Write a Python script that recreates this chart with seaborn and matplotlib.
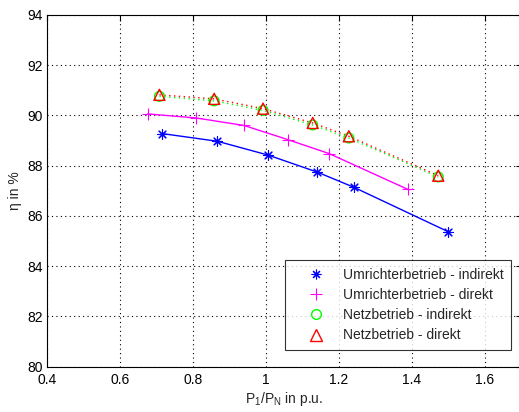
import matplotlib
matplotlib.use("Agg")
import matplotlib.pyplot as plt
import seaborn as sns
import pandas as pd

# Data
x_ur_ind = [0.714, 0.867, 1.006, 1.141, 1.242, 1.499]
y_ur_ind = [89.28, 88.97, 88.42, 87.74, 87.13, 85.37]

x_ur_dir = [0.676, 0.808, 0.940, 1.059, 1.173, 1.388]
y_ur_dir = [90.06, 89.90, 89.60, 89.04, 88.48, 87.06]

x_netz_ind = [0.708, 0.858, 0.992, 1.128, 1.227, 1.472]
y_netz_ind = [90.76, 90.58, 90.20, 89.62, 89.10, 87.55]

x_netz_dir = [0.708, 0.858, 0.992, 1.128, 1.227, 1.472]
y_netz_dir = [90.82, 90.66, 90.27, 89.70, 89.17, 87.60]

labels = ["Umrichterbetrieb - indirekt", "Umrichterbetrieb - direkt",
          "Netzbetrieb - indirekt", "Netzbetrieb - direkt"]
x_ticks = [0.4, 0.6, 0.8, 1, 1.2, 1.4, 1.6]
x_tick_labels = ["0.4", "0.6", "0.8", "1", "1.2", "1.4", "1.6"]
y_ticks = [80, 82, 84, 86, 88, 90, 92, 94]

sns.set_style("white")
plt.rcParams['font.family'] = ['Liberation Sans', 'DejaVu Sans']
plt.rcParams['mathtext.fontset'] = 'custom'
plt.rcParams['mathtext.rm'] = 'Liberation Sans'
plt.rcParams['mathtext.it'] = 'Liberation Sans'

FS = 10

fig = plt.figure(figsize=(5.19, 4.12), dpi=100)
ax = fig.add_axes([47/519, 1-366.5/412, (521.5-47)/519, (366.5-15)/412])

ASTER = (8, 2, 0)
series = [
    (x_ur_ind, y_ur_ind, "#0000ff", ASTER, "-", labels[0], 7, 'fill'),
    (x_ur_dir, y_ur_dir, "#ff00ff", "+", "-", labels[1], 8, 'fill'),
    (x_netz_ind, y_netz_ind, "#00ff00", "o", (0, (1, 2.5)), labels[2], 7, 'hollow'),
    (x_netz_dir, y_netz_dir, "#ff0000", "^", (0, (1, 2.5)), labels[3], 8, 'hollow'),
]

handles = []
for xs, ys, col, mk, ls, lab, ms, fill in series:
    df = pd.DataFrame({"x": xs, "y": ys})
    sns.lineplot(data=df, x="x", y="y", ax=ax, color=col, linestyle=ls,
                 linewidth=1.0, sort=False, legend=False, zorder=3)
    if fill == 'hollow':
        sns.scatterplot(data=df, x="x", y="y", ax=ax, marker=mk, s=ms**2,
                        facecolor="none", edgecolor=col, linewidth=1.0,
                        legend=False, zorder=4)
    else:
        sns.scatterplot(data=df, x="x", y="y", ax=ax, marker=mk, s=ms**2,
                        color=col, edgecolor=col, linewidth=0.8,
                        legend=False, zorder=4)
    h, = ax.plot([], [], linestyle="none", marker=mk, color=col,
                 markerfacecolor="none" if fill == 'hollow' else col,
                 markeredgecolor=col,
                 markersize=ms, markeredgewidth=0.8 if fill != 'hollow' else 1.0,
                 label=lab)
    handles.append(h)

ax.set_xlim(0.4, 1.7)
ax.set_ylim(80, 94)
ax.set_xticks(x_ticks)
ax.set_xticklabels(x_tick_labels)
ax.set_yticks(y_ticks)
ax.grid(True, color="black", linestyle=(0, (1, 3)), linewidth=0.8)
ax.set_axisbelow(True)
ax.tick_params(direction="in", length=4, width=0.8, labelsize=FS, colors="black",
               top=True, right=True, pad=3)
ax.tick_params(axis="x", pad=4.5)
for sp in ax.spines.values():
    sp.set_color("black")
    sp.set_linewidth(0.8)

ax.set_xlabel(r"P$_1$/P$_N$ in p.u.", fontsize=FS, labelpad=2)
ax.set_ylabel("η in %", fontsize=FS, labelpad=4)

leg = ax.legend(handles=handles, loc="lower right",
                bbox_to_anchor=((511-47)/(521.5-47), (366.5-350)/(366.5-15)),
                fontsize=FS, frameon=True, fancybox=False, borderpad=0.55,
                handlelength=3.3, handletextpad=0.3, labelspacing=0.44,
                borderaxespad=0)
leg.get_frame().set_edgecolor("black")
leg.get_frame().set_linewidth(0.8)

fig.savefig("out.png", dpi=100)
